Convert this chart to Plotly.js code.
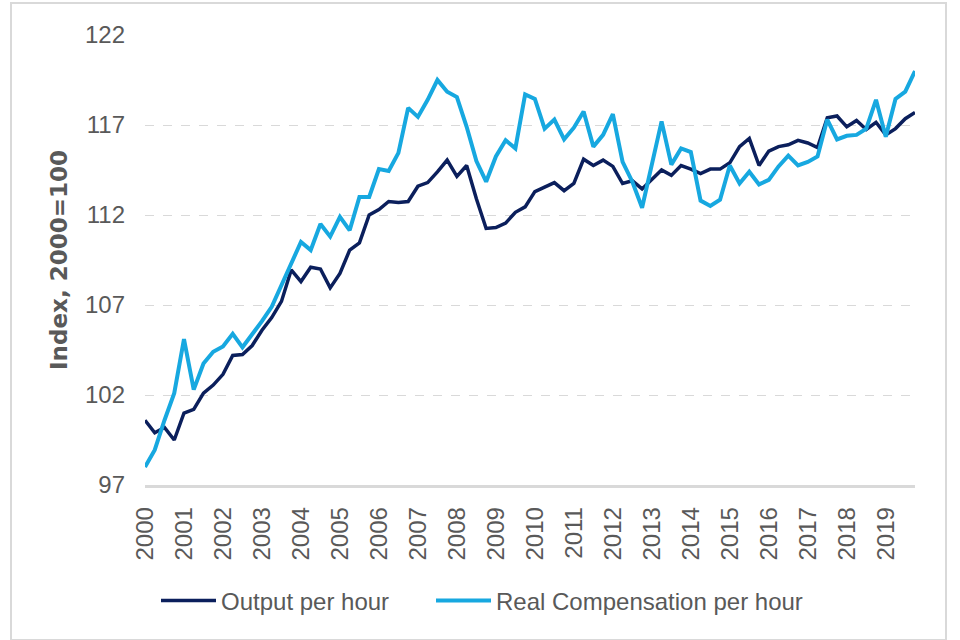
<!DOCTYPE html>
<html>
<head>
<meta charset="utf-8">
<script src="https://cdn.plot.ly/plotly-3.0.1.min.js"></script>
<style>
  html, body { margin: 0; padding: 0; background: #ffffff; }
  #chart { width: 960px; height: 640px; }
</style>
</head>
<body>
<div id="chart"></div>
<script>
// ---- Data (quarterly, 2000 Q1 to 2019 Q4) ----
var years = ['2000','2001','2002','2003','2004','2005','2006','2007','2008','2009',
             '2010','2011','2012','2013','2014','2015','2016','2017','2018','2019'];
var quarterNames = ['Q1','Q2','Q3','Q4'];

var outputPerHour = [
  100.6, 99.9, 100.2, 99.5,
  101.0, 101.2, 102.1, 102.55,
  103.15, 104.2, 104.25, 104.75,
  105.6, 106.3, 107.2, 108.95,
  108.3, 109.1, 109.0, 107.95,
  108.75, 110.05, 110.45, 112.0,
  112.3, 112.75, 112.7, 112.75,
  113.6, 113.8, 114.4, 115.05,
  114.15, 114.75, 112.9, 111.25,
  111.3, 111.55, 112.15, 112.45,
  113.3, 113.55, 113.8, 113.35,
  113.75, 115.1, 114.75, 115.05,
  114.7, 113.75, 113.9, 113.45,
  113.95, 114.5, 114.2, 114.75,
  114.55, 114.3, 114.55, 114.55,
  114.9, 115.8, 116.25, 114.75,
  115.55, 115.8, 115.9, 116.15,
  116.0, 115.75, 117.4, 117.5,
  116.9, 117.25, 116.75, 117.15,
  116.45, 116.8, 117.35, 117.7
];

var realCompPerHour = [
  98.0, 98.95, 100.6, 102.1,
  105.1, 102.3, 103.75, 104.4,
  104.7, 105.4, 104.65, 105.35,
  106.1, 106.9, 108.1, 109.3,
  110.5, 110.05, 111.5, 110.8,
  111.9, 111.15, 113.0, 113.0,
  114.55, 114.45, 115.45, 117.95,
  117.45, 118.4, 119.5, 118.85,
  118.55, 116.9, 115.0, 113.85,
  115.25, 116.15, 115.7, 118.7,
  118.45, 116.8, 117.3, 116.2,
  116.85, 117.75, 115.8, 116.45,
  117.6, 114.95, 113.85, 112.4,
  114.8, 117.2, 114.8, 115.7,
  115.5, 112.8, 112.5, 112.85,
  114.75, 113.75, 114.4, 113.7,
  113.95, 114.7, 115.3, 114.75,
  114.95, 115.25, 117.3, 116.2,
  116.4, 116.45, 116.8, 118.4,
  116.35, 118.45, 118.85, 120.0
];

var yTicks = [97, 102, 107, 112, 117, 122];

// category labels built from the years list
var quarters = [];
years.forEach(function (y) {
  quarterNames.forEach(function (q) { quarters.push(y + ' ' + q); });
});
var yearTickVals = years.map(function (y) { return y + ' Q1'; });

var FONT = 'Liberation Sans, Arial, sans-serif';
var GREY_TEXT = '#595959';
var GRID = '#d9d9d9';

var traces = [
  {
    x: quarters, y: outputPerHour, type: 'scatter', mode: 'lines',
    name: 'Output per hour',
    legendwidth: 205,
    line: { color: '#0b1f5c', width: 3.5 }
  },
  {
    x: quarters, y: realCompPerHour, type: 'scatter', mode: 'lines',
    name: 'Real Compensation per hour',
    line: { color: '#17a8e0', width: 4 }
  }
];

var layout = {
  width: 960, height: 640,
  paper_bgcolor: '#ffffff', plot_bgcolor: '#ffffff',
  margin: { l: 145, r: 45, t: 35, b: 155 },
  font: { family: FONT, color: GREY_TEXT },
  showlegend: true,
  legend: {
    orientation: 'h',
    xref: 'container', yref: 'container',
    x: 156 / 960, xanchor: 'left',
    y: 1 - 601 / 640, yanchor: 'middle',
    itemwidth: 55,
    font: { family: FONT, size: 24, color: GREY_TEXT },
    bgcolor: 'rgba(0,0,0,0)'
  },
  xaxis: {
    type: 'category',
    range: [0, quarters.length - 1],
    tickmode: 'array', tickvals: yearTickVals, ticktext: years,
    tickangle: -90,
    tickfont: { family: FONT, size: 24, color: GREY_TEXT },
    ticks: '', ticklabelstandoff: 10,
    showgrid: false, zeroline: false,
    showline: true, linecolor: GRID, linewidth: 2.5
  },
  yaxis: {
    range: [97, 122],
    tickmode: 'array', tickvals: yTicks,
    tickfont: { family: FONT, size: 24, color: GREY_TEXT },
    ticks: '', ticklabelstandoff: 19,
    showgrid: true, gridcolor: GRID, gridwidth: 1, griddash: 'dash',
    zeroline: false, showline: false,
    title: {
      text: 'Index, 2000=100',
      font: { family: 'DejaVu Sans, Liberation Sans, sans-serif', size: 23, color: GREY_TEXT, weight: 'bold' },
      standoff: 10
    }
  },
  shapes: [
    {
      type: 'rect', xref: 'paper', yref: 'paper',
      x0: (11 - 145) / 770, x1: (946 - 145) / 770,
      y0: (485 - 640) / 450, y1: (485 - 3) / 450,
      line: { color: GRID, width: 2 }, fillcolor: 'rgba(0,0,0,0)', layer: 'below'
    }
  ]
};

Plotly.newPlot('chart', traces, layout, { displayModeBar: false, staticPlot: true });
</script>
</body>
</html>
